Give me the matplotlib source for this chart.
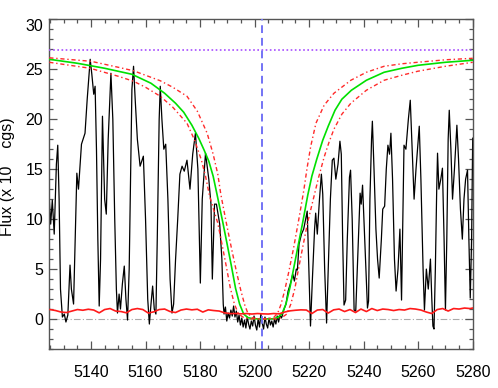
import matplotlib
matplotlib.use("Agg")
import matplotlib.pyplot as plt
from matplotlib.ticker import MultipleLocator

plt.rcParams['font.family'] = ['Liberation Sans', 'DejaVu Sans']

# ---------------- data ----------------
spec_wave = [
    5124.7, 5125.2, 5125.8, 5126.5, 5127.3, 5127.8, 5128.3, 5128.8, 5129.5, 5130.2,
    5130.8, 5131.5, 5132.3, 5132.8, 5133.6, 5134.8, 5135.4, 5136.5, 5137.8, 5138.6,
    5139.7, 5140.3, 5141.0, 5141.5, 5142.0, 5142.5, 5143.0, 5143.5, 5144.2, 5145.0,
    5145.6, 5146.3, 5147.3, 5148.0, 5148.7, 5149.3, 5149.7, 5150.3, 5150.8, 5151.5,
    5152.2, 5152.8, 5153.4, 5154.0, 5154.6, 5155.0, 5155.6, 5156.2, 5157.0, 5158.0,
    5159.2, 5160.0, 5160.8, 5161.4, 5162.0, 5162.6, 5163.2, 5163.8, 5164.3, 5165.0,
    5165.4, 5166.0, 5166.7, 5167.4, 5168.2, 5169.0, 5169.7, 5170.3, 5171.0, 5171.8,
    5172.6, 5173.4, 5174.2, 5175.2, 5176.3, 5177.3, 5178.3, 5179.2, 5180.1, 5180.8,
    5182.0, 5183.2, 5184.0, 5184.5, 5185.3, 5186.0, 5187.2, 5188.0, 5188.5,
    5188.8, 5189.3, 5189.8, 5190.3, 5190.8, 5191.3, 5191.8, 5192.3, 5192.8, 5193.3,
    5193.8, 5194.3, 5194.8, 5195.3, 5195.8, 5196.3, 5196.8, 5197.3, 5197.8, 5198.3,
    5198.8, 5199.3, 5199.8, 5200.3, 5200.8, 5201.3, 5201.8, 5202.3, 5202.8, 5203.3,
    5203.8, 5204.3, 5204.8, 5205.3, 5205.8, 5206.3, 5206.8, 5207.3, 5207.8, 5208.3,
    5208.8, 5209.3, 5209.8,
    5210.0, 5210.7, 5211.5, 5212.3, 5213.2, 5214.0, 5214.6, 5215.3, 5215.7, 5216.3,
    5217.2, 5218.0, 5219.3, 5219.8, 5220.5, 5221.2, 5222.0, 5222.4, 5223.0, 5223.8,
    5224.5, 5225.0, 5225.7, 5226.4, 5227.0, 5227.8, 5228.5, 5229.1, 5229.8, 5230.6,
    5231.3, 5231.8, 5232.3, 5232.8, 5233.4, 5234.0, 5234.8, 5235.2, 5235.8, 5236.5,
    5237.1, 5237.8, 5238.7, 5239.1, 5239.6, 5240.4, 5241.4, 5241.8, 5242.3, 5242.9,
    5243.2, 5243.8, 5244.5, 5245.1, 5245.7, 5246.5, 5247.0, 5247.7, 5248.3, 5248.9,
    5249.5, 5250.0, 5250.6, 5251.3, 5251.9, 5252.6, 5253.3, 5253.9, 5254.8, 5255.5,
    5256.4, 5257.1, 5257.8, 5258.5, 5259.2, 5260.4, 5261.0, 5261.8, 5262.3, 5263.0,
    5263.7, 5264.5, 5265.0, 5265.4, 5265.8, 5266.3, 5266.8, 5267.1, 5267.6, 5268.3,
    5268.9, 5269.5, 5270.0, 5270.5, 5271.0, 5271.4, 5272.0, 5272.6, 5273.3, 5274.2,
    5274.8, 5275.5, 5276.2, 5276.8, 5277.4, 5278.1, 5278.6, 5279.1, 5279.6, 5280.0,
]
spec_flux = [
    12.0, 9.5, 11.9, 8.5, 15.5, 17.4, 12.0, 3.0, 0.2, 0.5,
    -0.3, 0.4, 5.4, 3.0, 1.5, 14.6, 13.0, 17.5, 18.6, 22.0,
    26.0, 24.5, 22.5, 23.3, 17.0, 8.0, 1.3, 6.0, 20.3, 12.0,
    10.5, 18.0, 24.6, 20.0, 10.0, 3.0, 0.6, 2.5, 1.0, 3.5,
    5.3, 2.0, -0.1, 5.0, 16.0, 23.0, 25.3, 22.0, 18.0, 15.3,
    16.3, 10.0, 2.0, -0.5, 1.5, 3.3, 1.0, 0.5, 8.0, 20.0,
    23.3, 20.0, 17.0, 17.5, 12.0, 4.0, 0.6, 1.5, 5.9, 10.0,
    14.5, 15.3, 14.8, 15.9, 13.0, 16.5, 18.6, 15.0, 3.6, 12.0,
    16.6, 14.0, 11.5, 4.0, 11.5, 11.5, 9.5, 6.0, 1.5,
    0.5, 1.2, -0.2, 0.6, 0.1, 0.9, 0.3, 1.3, 0.2, 0.8,
    -0.3, 0.4, -0.6, 0.1, -0.8, -0.1, -0.9, 0.2, -0.5, -1.0,
    -0.2, -0.7, 0.3, -0.6, -1.1, 0.0, -0.8, 0.5, -0.4, -1.0,
    0.2, -0.5, -0.9, 0.1, -0.6, -0.2, -0.8, 0.0, -0.5, 0.3,
    -0.3, 0.4, 0.1,
    0.2, 0.9, 1.5, 2.8, 3.6, 4.5, 3.8, 5.0, 4.9, 7.5,
    8.5, 9.0, 10.8, 6.0, -0.7, 4.0, 9.0, 10.6, 8.5, 12.0,
    14.5, 12.5, 5.0, -0.4, 5.0, 12.0, 15.9, 16.1, 14.0, 15.5,
    17.8, 16.5, 8.0, 1.4, 1.9, 8.0, 14.2, 14.9, 10.0, 0.9,
    0.8, 6.0, 12.6, 11.5, 13.4, 8.0, 1.1, 1.8, 12.0, 18.0,
    19.8, 15.0, 9.0, 6.0, 4.1, 8.0, 11.0, 11.3, 15.0, 17.4,
    16.5, 18.6, 14.0, 6.0, 2.8, 5.0, 9.0, 1.9, 17.4, 17.0,
    20.0, 21.9, 17.0, 12.0, 15.0, 19.3, 14.0, 5.0, 0.9, 5.0,
    3.0, 6.0, 2.0, -0.7, -1.0, 5.0, 13.0, 16.6, 13.0, 14.0,
    15.1, 8.0, 0.9, 8.0, 18.0, 20.9, 17.0, 12.0, 15.0, 19.4,
    16.0, 11.0, 8.0, 12.0, 14.0, 14.9, 8.0, 2.1, 8.0, 18.1,
]

err_wave = [
    5125, 5127, 5129, 5131, 5133, 5135, 5137, 5139, 5141, 5143,
    5145, 5147, 5149, 5151, 5153, 5155, 5157, 5159, 5161, 5163,
    5165, 5167, 5169, 5171, 5173, 5175, 5177, 5179, 5181, 5183,
    5185, 5187, 5189, 5191, 5193, 5195, 5197, 5199, 5201, 5203,
    5205, 5207, 5209, 5211, 5213, 5215, 5217, 5219, 5221, 5223,
    5225, 5227, 5229, 5231, 5233, 5235, 5237, 5239, 5241, 5243,
    5245, 5247, 5249, 5251, 5253, 5255, 5257, 5259, 5261, 5263,
    5265, 5267, 5269, 5271, 5273, 5275, 5277, 5279, 5280,
]
err_flux = [
    0.95, 0.85, 0.70, 0.65, 0.80, 0.95, 0.88, 0.98, 0.90, 0.62,
    0.95, 1.05, 0.80, 0.75, 0.62, 0.95, 1.05, 0.95, 0.60, 0.72,
    0.95, 1.00, 0.75, 0.65, 0.90, 1.00, 0.92, 0.98, 0.70, 0.92,
    0.85, 0.80, 0.62, 0.55, 0.55, 0.52, 0.55, 0.50, 0.55, 0.52,
    0.50, 0.55, 0.52, 0.70, 0.82, 0.88, 0.92, 0.90, 0.55, 0.90,
    0.95, 0.60, 0.92, 1.00, 0.75, 0.95, 0.65, 1.00, 0.75, 1.05,
    0.85, 1.00, 0.95, 0.85, 0.95, 0.90, 1.05, 1.00, 0.90, 0.70,
    0.55, 0.95, 1.05, 0.80, 1.05, 1.00, 1.10, 1.05, 1.10,
]

fit_wave = [
    5124.7, 5135, 5145, 5155, 5162, 5167, 5171, 5174, 5177, 5179.5,
    5181.5, 5183.2, 5184.8, 5186.2, 5188.4, 5190, 5191.5, 5193, 5194.5, 5196,
    5197.5, 5199.5, 5206.5, 5208.5, 5210, 5211.5, 5213, 5214.5, 5216, 5217.6,
    5219.5, 5221, 5222.8, 5225, 5227, 5229.5, 5232, 5235.5, 5241, 5247.5,
    5254, 5260, 5270, 5280,
]
fit_flux = [
    26.0, 25.6, 25.1, 24.5, 23.6, 22.6, 21.6, 20.7, 19.4, 18.1,
    16.9, 15.8, 14.3, 12.5, 9.6, 7.4, 5.3, 3.1, 1.5, 0.5,
    0.15, 0.02, 0.02, 0.15, 0.5, 1.5, 3.2, 5.3, 7.4, 9.6,
    12.4, 14.3, 16.0, 17.9, 19.3, 20.9, 22.0, 22.9, 23.9, 24.7,
    25.1, 25.4, 25.7, 25.9,
]

hi_wave = [
    5124.7, 5140, 5150, 5155.6, 5160, 5165.4, 5170, 5175.2, 5179, 5182.6,
    5184.8, 5186.5, 5187.6, 5189.5, 5191.5, 5193.3, 5195, 5196.4, 5197.5, 5199,
    5201, 5205, 5207, 5208.5, 5209.6, 5211, 5212.6, 5214.3, 5216.1, 5218,
    5219.3, 5220.6, 5222.5, 5225.5, 5229.1, 5235.3, 5241, 5247.5, 5254, 5259.8,
    5270, 5280,
]
hi_flux = [
    26.15, 25.8, 25.2, 24.85, 24.4, 23.85, 23.2, 22.3, 20.8, 18.6,
    16.5, 14.5, 12.5, 9.8, 7.1, 4.8, 2.8, 1.4, 0.6, 0.15,
    0.02, 0.02, 0.15, 0.6, 1.4, 2.8, 4.8, 7.1, 9.8, 12.8,
    15.2, 17.3, 19.6, 21.4, 22.6, 23.9, 24.7, 25.3, 25.55, 25.7,
    25.95, 26.1,
]

lo_wave = [
    5124.7, 5139.7, 5150, 5155.6, 5160, 5165.4, 5170, 5175.2, 5178, 5180.5,
    5182, 5183.5, 5186.5, 5188.1, 5189.6, 5191.1, 5192.6, 5194.1, 5196, 5198,
    5208, 5210, 5211.8, 5213.3, 5214.8, 5216.3, 5217.8, 5219.4, 5221.8, 5223.5,
    5225.5, 5227.3, 5229.1, 5232, 5235.3, 5241, 5247.5, 5254, 5259.8, 5270,
    5280,
]
lo_flux = [
    25.7, 25.1, 24.3, 23.8, 23.2, 22.3, 21.2, 19.6, 17.9, 15.9,
    14.3, 12.3, 9.6, 7.4, 5.3, 3.1, 1.5, 0.5, 0.15, 0.02,
    0.02, 0.15, 0.5, 1.5, 3.1, 5.3, 7.4, 9.6, 12.3, 14.2,
    16.2, 17.7, 19.0, 20.5, 21.6, 22.9, 23.9, 24.4, 24.8, 25.3,
    25.7,
]

continuum_level = 26.9
line_center = 5202.8
zero_level = 0.0

x_major = [5140, 5160, 5180, 5200, 5220, 5240, 5260, 5280]
y_major = [0, 5, 10, 15, 20, 25, 30]
y_label = 'Flux (x 10    cgs)'

# ---------------- figure ----------------
fig = plt.figure(figsize=(4.98, 3.88), dpi=100)
ax = fig.add_axes([0.099, 0.1005, 0.8502, 0.8497])

ax.plot(spec_wave, spec_flux, color='black', lw=0.9, zorder=2)
ax.axhline(zero_level, color='#aaaaaa', lw=0.8, ls=(0, (6, 2, 1, 2)), zorder=1)
ax.plot(fit_wave, fit_flux, color='#00e000', lw=1.2, zorder=3)
dashdot = (0, (3, 2, 1, 2))
ax.plot(hi_wave, hi_flux, color='#ff2a2a', lw=1.0, ls=dashdot, zorder=3)
ax.plot(lo_wave, lo_flux, color='#ff2a2a', lw=1.0, ls=dashdot, zorder=3)
ax.plot(err_wave, err_flux, color='#ff1a1a', lw=1.2, zorder=4)
ax.axhline(continuum_level, color='#a64dff', lw=1.2, ls=(0, (1, 1.5)), zorder=3)
ax.axvline(line_center, color='#7373f5', lw=1.4, ls=(0, (4, 2.5)), zorder=4)

ax.set_xlim(5124.7, 5280)
ax.set_ylim(-3, 30)
ax.set_xticks(x_major)
ax.set_yticks(y_major)
ax.xaxis.set_minor_locator(MultipleLocator(5))
ax.yaxis.set_minor_locator(MultipleLocator(1))

spine_col = '#555555'
for s in ax.spines.values():
    s.set_color(spine_col)
    s.set_linewidth(1.0)
ax.tick_params(which='both', direction='in', top=True, right=True, color=spine_col, width=0.9)
ax.tick_params(which='major', length=5.5)
ax.tick_params(which='minor', length=3)
ax.tick_params(axis='x', which='major', pad=11.5, labelsize=11.5)
ax.tick_params(axis='y', which='major', pad=4.3, labelsize=11.5)

fig.canvas.draw()
for lab in ax.get_yticklabels():
    if lab.get_text() == '30':
        lab.set_va('top')

fig.text(12.5 / 498, 0.544, y_label, rotation=90,
         rotation_mode='anchor', ha='center', va='baseline', fontsize=11.5)

fig.savefig('out.png', dpi=100)
